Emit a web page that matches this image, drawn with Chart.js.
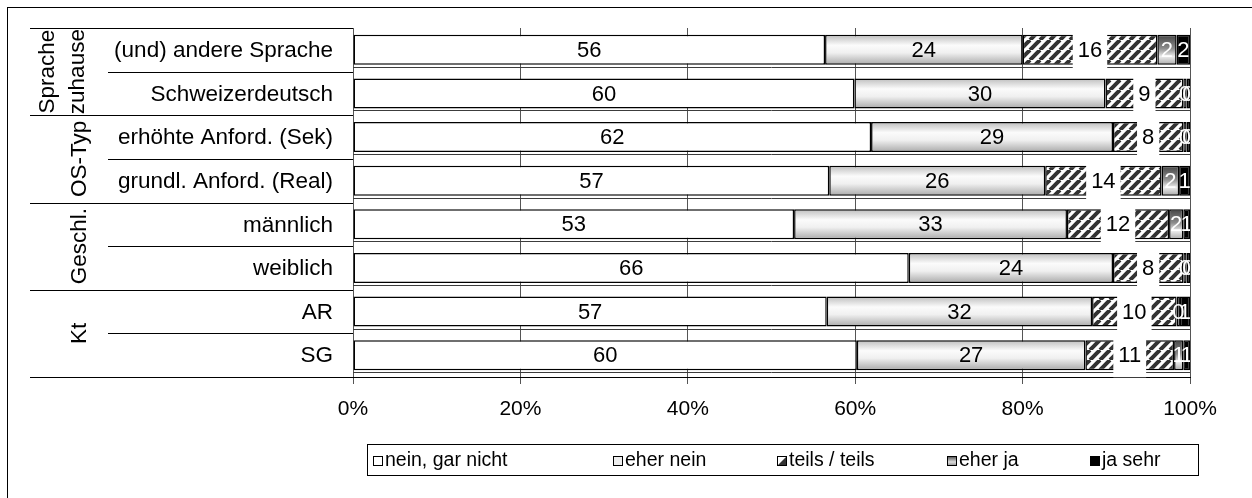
<!DOCTYPE html>
<html lang="de">
<head>
<meta charset="UTF-8">
<title>Antworten nach Gruppen</title>
<script src="https://cdn.jsdelivr.net/npm/chart.js@4.4.1/dist/chart.umd.min.js"></script>
<style>
  html, body { margin: 0; padding: 0; background: #fff; }
  #wrap { width: 1252px; height: 498px; }
</style>
</head>
<body>
<div id="wrap"><canvas id="chart" width="1252" height="498"></canvas></div>
<script>
const categories = [
  '(und) andere Sprache', 'Schweizerdeutsch',
  'erhöhte Anford. (Sek)', 'grundl. Anford. (Real)',
  'männlich', 'weiblich',
  'AR', 'SG'
];
const groupNames = [['Sprache', 'zuhause'], ['OS-Typ'], ['Geschl.'], ['Kt']];
const groupSizes = [2, 2, 2, 2];

const seriesNames = ['nein, gar nicht', 'eher nein', 'teils / teils', 'eher ja', 'ja sehr'];
const neinGarNicht = [56.4, 59.9, 61.9, 56.9, 52.7, 66.4, 56.6, 60.2];
const eherNein     = [23.6, 30.0, 28.9, 25.8, 32.6, 24.4, 31.7, 27.3];
const teilsTeils   = [16.1,  9.3,  8.4, 13.9, 12.2,  8.4, 10.1, 10.6];
const eherJa       = [ 2.3,  0.4,  0.4,  2.1,  1.7,  0.4,  0.4,  1.1];
const jaSehr       = [ 1.6,  0.4,  0.4,  1.3,  0.8,  0.4,  1.2,  0.8];

const xTicks = [0, 20, 40, 60, 80, 100];

const FONT = '"Liberation Sans", Arial, sans-serif';
const BAR_PCT = 0.69;

// diagonal hatch for "teils / teils"
function hatchPattern() {
  const s = 10;
  const c = document.createElement('canvas');
  c.width = s; c.height = s;
  const g = c.getContext('2d');
  g.fillStyle = '#fff';
  g.fillRect(0, 0, s, s);
  g.strokeStyle = '#333';
  g.lineWidth = 4;
  g.beginPath();
  for (const k of [-1, 0, 1]) {
    g.moveTo(k * s, s);
    g.lineTo(k * s + s, 0);
  }
  g.stroke();
  return g.createPattern(c, 'repeat');
}

// vertical shading across each bar
function barShade(stops) {
  return (ctx) => {
    const chart = ctx.chart;
    const y = chart.scales.y;
    if (!y || ctx.dataIndex === undefined || !chart.chartArea) return stops[1][1];
    const mid = y.getPixelForValue(ctx.dataIndex);
    const half = Math.abs(y.getPixelForValue(1) - y.getPixelForValue(0)) * BAR_PCT / 2;
    const g = chart.ctx.createLinearGradient(0, mid - half, 0, mid + half);
    stops.forEach(([o, c]) => g.addColorStop(o, c));
    return g;
  };
}

const hatch = hatchPattern();
const fills = [
  '#ffffff',
  barShade([[0, '#bdbdbd'], [0.35, '#fbfbfb'], [0.6, '#f0f0f0'], [1, '#a9a9a9']]),
  hatch,
  barShade([[0, '#444'], [0.45, '#8c8c8c'], [0.72, '#ededed'], [1, '#a8a8a8']]),
  '#000000'
];
const values = [neinGarNicht, eherNein, teilsTeils, eherJa, jaSehr];

const valueLabels = {
  id: 'valueLabels',
  afterDatasetsDraw(chart) {
    const ctx = chart.ctx;
    const area = chart.chartArea;
    ctx.save();
    // thin line right under every bar
    ctx.strokeStyle = '#3c3c3c';
    ctx.lineWidth = 1;
    chart.getDatasetMeta(0).data.forEach(bar => {
      const yb = Math.round(bar.y + bar.height / 2) + 2.5;
      ctx.beginPath();
      ctx.moveTo(area.left, yb);
      ctx.lineTo(area.right, yb);
      ctx.stroke();
    });

    ctx.font = '22px ' + FONT;
    ctx.textAlign = 'center';
    ctx.textBaseline = 'middle';
    chart.data.datasets.forEach((ds, di) => {
      const meta = chart.getDatasetMeta(di);
      meta.data.forEach((bar, i) => {
        const text = String(Math.round(ds.data[i]));
        const cx = (bar.x + bar.base) / 2;
        const cy = bar.y + 1;
        if (di === 2) {
          const w = ctx.measureText(text).width + 10;
          ctx.fillStyle = '#fff';
          ctx.fillRect(cx - w / 2, bar.y - bar.height / 2 - 3, w, bar.height + 10);
          ctx.fillStyle = '#000';
          ctx.fillText(text, cx, cy);
        } else if (di >= 3) {
          ctx.save();
          ctx.beginPath();
          ctx.rect(area.left, area.top, area.right - area.left, area.bottom - area.top);
          ctx.clip();
          ctx.fillStyle = '#fff';
          ctx.fillText(text, cx, cy);
          ctx.restore();
        } else {
          ctx.fillStyle = '#000';
          ctx.fillText(text, cx, cy);
        }
      });
    });
    ctx.restore();
  }
};

const sideLabels = {
  id: 'sideLabels',
  afterDraw(chart) {
    const ctx = chart.ctx;
    const y = chart.scales.y;
    const area = chart.chartArea;
    const band = y.getPixelForValue(1) - y.getPixelForValue(0);
    ctx.save();

    // frame
    ctx.strokeStyle = '#000';
    ctx.lineWidth = 1;
    ctx.strokeRect(7.5, 7.5, 1260, 520);

    ctx.font = '22.5px ' + FONT;
    ctx.fillStyle = '#000';
    ctx.textAlign = 'right';
    ctx.textBaseline = 'middle';
    categories.forEach((c, i) => ctx.fillText(c, 333, y.getPixelForValue(i) + 1));

    const hline = (x0, yy) => {
      const py = Math.round(yy) + 0.5;
      ctx.beginPath();
      ctx.moveTo(x0, py);
      ctx.lineTo(area.left, py);
      ctx.stroke();
    };
    hline(30, area.top);
    let row = 0;
    groupSizes.forEach((n, g) => {
      const top = y.getPixelForValue(row) - band / 2;
      for (let k = 1; k < n; k++) hline(108, top + k * band);
      hline(30, top + n * band);

      const cy = top + n * band / 2;
      const lines = groupNames[g];
      const bases = lines.length === 2 ? [54, 84] : [86];
      ctx.textAlign = 'center';
      ctx.textBaseline = 'alphabetic';
      lines.forEach((t, li) => {
        ctx.save();
        ctx.translate(bases[li], cy);
        ctx.rotate(-Math.PI / 2);
        ctx.fillText(t, 0, 0);
        ctx.restore();
      });
      ctx.textAlign = 'right';
      ctx.textBaseline = 'middle';
      row += n;
    });

    // legend
    const box = { left: 367.5, top: 444.5, right: 1198.5, bottom: 475.5 };
    ctx.strokeRect(box.left, box.top, box.right - box.left, box.bottom - box.top);
    const starts = [373, 613, 777, 947, 1090];
    const my = 460;
    ctx.font = '19.5px ' + FONT;
    ctx.textAlign = 'left';
    ctx.textBaseline = 'middle';
    seriesNames.forEach((name, s) => {
      const mx = starts[s];
      const sz = 10;
      const top = my - sz / 2 + 1;
      if (s === 2) {
        ctx.fillStyle = '#fff';
        ctx.fillRect(mx, top, sz, sz);
        ctx.fillStyle = '#333';
        ctx.beginPath();
        ctx.moveTo(mx + sz, top);
        ctx.lineTo(mx + sz, top + sz);
        ctx.lineTo(mx, top + sz);
        ctx.closePath();
        ctx.fill();
      } else if (s === 3) {
        const g = ctx.createLinearGradient(0, top, 0, top + sz);
        g.addColorStop(0, '#444');
        g.addColorStop(0.6, '#ddd');
        g.addColorStop(1, '#888');
        ctx.fillStyle = g;
        ctx.fillRect(mx, top, sz, sz);
      } else {
        ctx.fillStyle = s === 4 ? '#000' : (s === 1 ? '#eee' : '#fff');
        ctx.fillRect(mx, top, sz, sz);
      }
      ctx.strokeStyle = '#000';
      ctx.strokeRect(mx + 0.5, top + 0.5, sz - 1, sz - 1);
      ctx.fillStyle = '#000';
      ctx.fillText(name, mx + sz + 2, my + 1);
    });
    ctx.restore();
  }
};

new Chart(document.getElementById('chart'), {
  type: 'bar',
  data: {
    labels: categories,
    datasets: seriesNames.map((name, s) => ({
      label: name,
      data: values[s],
      backgroundColor: fills[s],
      borderColor: '#000',
      borderWidth: 1.5,
      borderSkipped: false,
      barPercentage: BAR_PCT,
      categoryPercentage: 1
    }))
  },
  options: {
    indexAxis: 'y',
    responsive: false,
    animation: false,
    layout: { padding: { left: 353, right: 62, top: 28, bottom: 0 } },
    plugins: {
      legend: { display: false },
      tooltip: { enabled: false }
    },
    scales: {
      x: {
        stacked: true,
        min: 0,
        max: 100,
        afterBuildTicks: (scale) => { scale.ticks = xTicks.map(v => ({ value: v })); },
        afterFit: (scale) => { scale.height = 121; },
        ticks: {
          callback: (v) => v + '%',
          color: '#000',
          font: { family: FONT, size: 21 },
          padding: 13,
          maxRotation: 0
        },
        grid: { color: '#555', lineWidth: 1, tickLength: 7, drawTicks: true },
        border: { color: '#000', width: 1 }
      },
      y: {
        stacked: true,
        display: false
      }
    }
  },
  plugins: [valueLabels, sideLabels]
});
</script>
</body>
</html>
